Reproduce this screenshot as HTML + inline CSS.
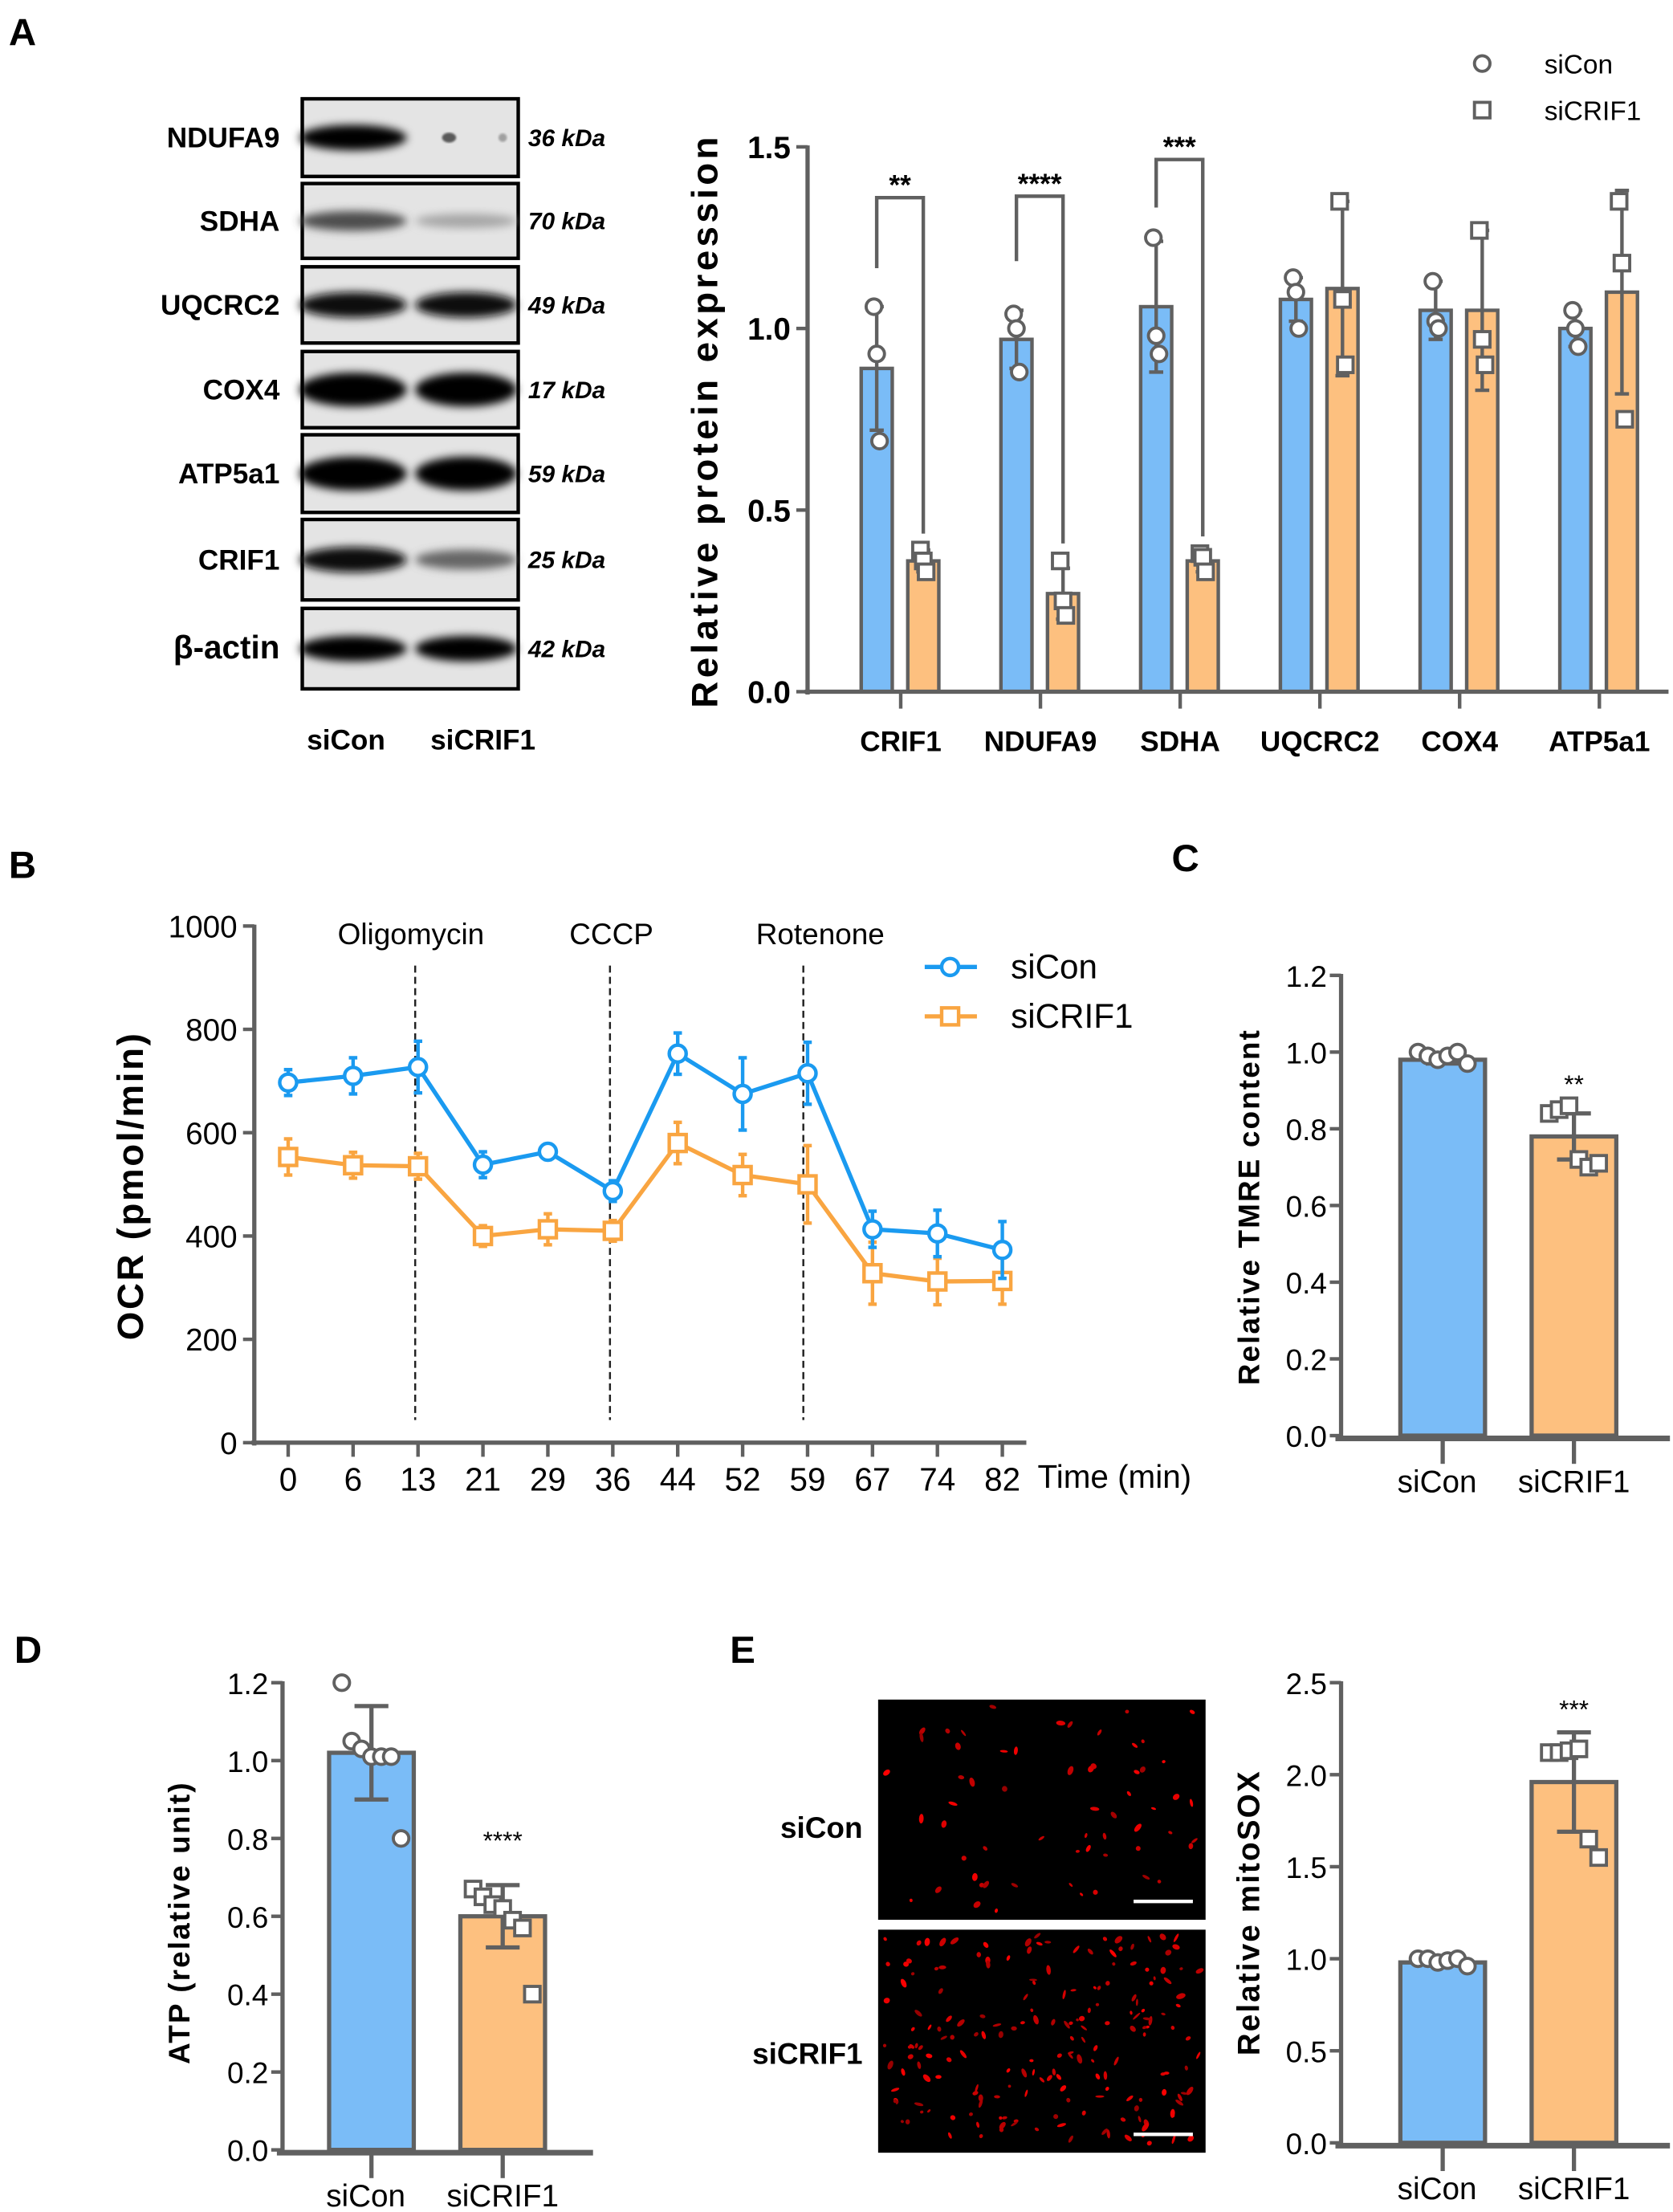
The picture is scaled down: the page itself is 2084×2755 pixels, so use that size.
<!DOCTYPE html>
<html><head><meta charset="utf-8">
<style>
html,body{margin:0;padding:0;background:#fff;}
svg{display:block;}
text{font-family:"Liberation Sans",Arial,sans-serif;}
text.n{font-family:"Liberation Sans Narrow","Liberation Sans",Arial,sans-serif;}
</style></head>
<body>
<svg id="fig" width="2084" height="2755" viewBox="0 0 1185 1567" xmlns="http://www.w3.org/2000/svg">
<defs>
<filter id="blur" x="-20%" y="-50%" width="140%" height="200%"><feGaussianBlur stdDeviation="3"/></filter>
<filter id="blur1"><feGaussianBlur stdDeviation="0.8"/></filter>
</defs>
<g id="root"></g>
</svg>
<script>
// ---------- Panel A bar chart data ----------
const aCategories = ["CRIF1","NDUFA9","SDHA","UQCRC2","COX4","ATP5a1"];
const aSiConMean = [0.89,0.97,1.06,1.08,1.05,1.00];
const aSiConSD = [0.17,0.08,0.18,0.06,0.08,0.05];
const aSiCRIF1Mean = [0.36,0.27,0.36,1.11,1.05,1.10];
const aSiCRIF1SD = [0.03,0.07,0.03,0.24,0.22,0.28];
const aSiConPts = [[1.06,0.93,0.69],[1.04,1.00,0.88],[1.25,0.98,0.93],[1.14,1.10,1.00],[1.13,1.02,1.00],[1.05,1.00,0.95]];
const aSiCRIF1Pts = [[0.39,0.36,0.33],[0.36,0.25,0.21],[0.38,0.37,0.33],[1.35,1.08,0.90],[1.27,0.97,0.90],[1.35,1.18,0.75]];
const aTicks = [0,0.5,1.0,1.5];
const aSig = ["**","****","***"];
// ---------- Panel A blots ----------
const blotLabels = ["NDUFA9","SDHA","UQCRC2","COX4","ATP5a1","CRIF1","β-actin"];
const blotKDa = ["36 kDa","70 kDa","49 kDa","17 kDa","59 kDa","25 kDa","42 kDa"];
const blotIntensity = [[1.0,0.15],[0.7,0.35],[0.95,0.95],[1.0,1.0],[1.0,1.0],[0.95,0.6],[1.0,1.0]];
// ---------- Panel B OCR ----------
const bTimes = ["0","6","13","21","29","36","44","52","59","67","74","82"];
const bSiCon = [697,710,727,538,563,487,753,675,715,413,405,373];
const bSiConErr = [25,35,50,25,15,20,40,70,60,35,45,55];
const bSiCRIF1 = [553,537,535,400,413,410,580,518,500,328,312,313];
const bSiCRIF1Err = [35,25,25,20,30,20,40,40,75,60,45,45];
const bTicks = [0,200,400,600,800,1000];
const bInjections = [{i:2,label:"Oligomycin"},{i:5,label:"CCCP"},{i:8,label:"Rotenone"}];
// ---------- Panel C TMRE ----------
const cGroups = ["siCon","siCRIF1"];
const cMean = [0.98,0.78];
const cSD = [0.01,0.06];
const cPts = [[1.0,0.99,0.98,0.99,1.0,0.97],[0.84,0.85,0.86,0.72,0.70,0.71]];
const cTicks = [0,0.2,0.4,0.6,0.8,1.0,1.2];
// ---------- Panel D ATP ----------
const dGroups = ["siCon","siCRIF1"];
const dMean = [1.02,0.60];
const dSD = [0.12,0.08];
const dPts = [[1.20,1.05,1.03,1.01,1.01,1.01,0.80],[0.67,0.65,0.63,0.62,0.59,0.57,0.40]];
const dTicks = [0,0.2,0.4,0.6,0.8,1.0,1.2];
// ---------- Panel E mitoSOX ----------
const eGroups = ["siCon","siCRIF1"];
const eMean = [0.98,1.96];
const eSD = [0.01,0.27];
const ePts = [[1.0,1.0,0.98,0.99,1.0,0.96],[2.12,2.12,2.13,2.14,1.65,1.55]];
const eTicks = [0,0.5,1.0,1.5,2.0,2.5];

const NS="http://www.w3.org/2000/svg";
const root=document.getElementById('root');
const GRAY="#606060", BLUE="#7abcf7", ORANGE="#fdc07f";
function el(tag,attrs,parent,txt){const e=document.createElementNS(NS,tag);for(const k in attrs)e.setAttribute(k,attrs[k]);if(txt!==undefined)e.textContent=txt;(parent||root).appendChild(e);return e;}

// panel letters
[["A",6,32],["B",6,622],["C",830,617],["D",10,1178],["E",517,1178]].forEach(p=>{
  const t=el('text',{x:p[1],y:p[2],'font-size':27,'font-weight':'bold'},root,p[0]);
  
  
});

// ---- blots ----
const blotTops=[70,130,189,249,308,368,431], blotH=[55,53,54,54,55,57,57];
const gB=el('g',{});


blotLabels.forEach((lab,i)=>{
  const y=blotTops[i],h=blotH[i],cy=y+h/2;
  const g=el('g',{},gB);
  
  
  el('rect',{x:214,y:y,width:153,height:h,fill:'#e4e4e4',stroke:'#000','stroke-width':2.5},g);
  const lanes=[250,330];
  blotIntensity[i].forEach((v,j)=>{
    const grey=Math.round(255*(1-v));
    const ry=v>0.9?(i===3||i===4?12:9):(v>0.5?7:5);
    const rx=v<0.2?4:(j===0?38:36);
    if(v<0.2){
      el('ellipse',{cx:lanes[j]-12,cy:cy,rx:5,ry:3.5,fill:'rgb(90,90,90)',filter:'url(#blur1)'},g);
      el('ellipse',{cx:lanes[j]+26,cy:cy,rx:3,ry:3,fill:'rgb(160,160,160)',filter:'url(#blur1)'},g);
    } else {
      el('ellipse',{cx:lanes[j],cy:cy,rx:rx,ry:ry,fill:`rgb(${grey},${grey},${grey})`,filter:'url(#blur)'},g);
    }
  });
  const t=el('text',{x:198,y:cy+7,'font-size':i===6?23:20,'font-weight':'bold','text-anchor':'end'},g,lab);
  
  
  const k=el('text',{x:374,y:cy+6,'font-size':17,'font-weight':'bold','font-style':'italic'},g,blotKDa[i]);
  
  
});
[["siCon",245],["siCRIF1",342]].forEach(p=>{
  const t=el('text',{x:p[1],y:531,'font-size':20,'font-weight':'bold','text-anchor':'middle'},gB,p[0]);
  
  
});

// generic helpers
function circ(g,x,y,r){el('circle',{cx:x,cy:y,r:r,fill:'#fff',stroke:GRAY,'stroke-width':2.2},g);}
function sq(g,x,y,r){el('rect',{x:x-r,y:y-r,width:2*r,height:2*r,fill:'#fff',stroke:GRAY,'stroke-width':2.2},g);}
function errbar(g,x,y1,y2,cap,col,w){el('line',{x1:x,x2:x,y1:y1,y2:y2,stroke:col,'stroke-width':w},g);
  el('line',{x1:x-cap,x2:x+cap,y1:y2,y2:y2,stroke:col,'stroke-width':w},g);}

// ---- Panel A chart ----
(function(){
  const g=el('g',{});
  
  
  const x0=572,y0=490,ppu=257.3;
  const Y=v=>y0-v*ppu;
  const X=i=>638+99*i;
  aCategories.forEach((c,i)=>{
    const cx=X(i);
    [[aSiConMean,aSiConSD,aSiConPts,BLUE,-17,'siCon'],[aSiCRIF1Mean,aSiCRIF1SD,aSiCRIF1Pts,ORANGE,16,'siCRIF1']].forEach(s=>{
      const bx=cx+s[4], m=s[0][i];
      const r=el('rect',{x:bx-11,y:Y(m),width:22,height:y0-Y(m),fill:s[3],stroke:GRAY,'stroke-width':2.5},g);
      
      
      errbar(g,bx,Y(m),Y(m+s[1][i]),5,GRAY,2.5);
      errbar(g,bx,Y(m),Y(m-s[1][i]),5,GRAY,2.5);
      s[2][i].forEach((p,k)=>{const dx=(k-1)*2; if(s[5]==='siCon')circ(g,bx+dx,Y(p),5.5); else sq(g,bx+dx,Y(p),5.5);});
    });
    el('line',{x1:cx,x2:cx,y1:y0,y2:y0+12,stroke:GRAY,'stroke-width':2.5},g);
    const t=el('text',{x:cx,y:532,'font-size':20,'font-weight':'bold','text-anchor':'middle'},g,c);
    
    
  });
  el('line',{x1:x0,x2:x0,y1:Y(1.5)-1,y2:y0+2,stroke:GRAY,'stroke-width':3},g);
  el('line',{x1:x0-2,x2:1182,y1:y0,y2:y0,stroke:GRAY,'stroke-width':3},g);
  aTicks.forEach(v=>{
    el('line',{x1:x0-8,x2:x0,y1:Y(v),y2:Y(v),stroke:GRAY,'stroke-width':2.5},g);
    const t=el('text',{x:x0-12,y:Y(v)+8,'font-size':22,'font-weight':'bold','text-anchor':'end'},g,v.toFixed(1));
    
    
  });
  aSig.forEach((s,i)=>{
    const bx1=X(i)-17,bx2=X(i)+16;
    const by=[140,139,113][i];
    const l1=[190,185,147][i], l2=[378,385,380][i];
    el('polyline',{points:`${bx1},${l1} ${bx1},${by} ${bx2},${by} ${bx2},${l2}`,fill:'none',stroke:GRAY,'stroke-width':2.5},g);
    const t=el('text',{x:(bx1+bx2)/2,y:by-2,'font-size':20,'font-weight':'bold','text-anchor':'middle'},g,s);
    
    
  });
  const yl=el('text',{transform:'translate(508,298) rotate(-90)','font-size':26,'font-weight':'bold','text-anchor':'middle','letter-spacing':'2.5'},g,'Relative  protein expression');
  
  
  const lg=el('g',{},g);
  
  
  circ(lg,1050,45,5.5); sq(lg,1050,78,5.5);
  el('text',{x:1094,y:52,'font-size':19},lg,'siCon');
  el('text',{x:1094,y:85,'font-size':19},lg,'siCRIF1');
})();

// ---- Panel B ----
(function(){
  const g=el('g',{});
  
  
  const x0=180,y0=1022,ppu=0.366;
  const Y=v=>y0-v*ppu, X=i=>204+46*i;
  el('line',{x1:x0,x2:x0,y1:Y(1000)-1,y2:y0+2,stroke:GRAY,'stroke-width':3},g);
  el('line',{x1:x0-2,x2:727,y1:y0,y2:y0,stroke:GRAY,'stroke-width':3},g);
  bTicks.forEach(v=>{
    el('line',{x1:x0-8,x2:x0,y1:Y(v),y2:Y(v),stroke:GRAY,'stroke-width':2.5},g);
    const t=el('text',{x:x0-12,y:Y(v)+8,'font-size':22,'text-anchor':'end','class':'n'},g,String(v));
    
    
  });
  bTimes.forEach((s,i)=>{
    el('line',{x1:X(i),x2:X(i),y1:y0,y2:y0+10,stroke:GRAY,'stroke-width':2.5},g);
    const t=el('text',{x:X(i),y:1056,'font-size':23,'text-anchor':'middle','class':'n'},g,s);
    
    
  });
  const tt=el('text',{x:735,y:1054,'font-size':23,'class':'n'},g,'Time (min)');
  
  
  bInjections.forEach((inj,j)=>{
    const lx=X(inj.i)+(inj.i===8?-3:(inj.i===2?-2:-2));
    el('line',{x1:lx,x2:lx,y1:684,y2:1006,stroke:'#222','stroke-width':1.4,'stroke-dasharray':'5,3'},g);
    const t=el('text',{x:[291,433,581][j],y:669,'font-size':21,'text-anchor':'middle','class':'n'},g,inj.label);
    
    
  });
  [[bSiCRIF1,bSiCRIF1Err,'#f9a541','sq','series-sicrif1'],[bSiCon,bSiConErr,'#1a9af0','c','series-sicon']].forEach(s=>{
    const sg=el('g',{},g);
    
    
    el('polyline',{points:s[0].map((v,i)=>X(i)+','+Y(v)).join(' '),fill:'none',stroke:s[2],'stroke-width':3},sg);
    s[0].forEach((v,i)=>{
      errbar(sg,X(i),Y(v),Y(v+s[1][i]),3,s[2],2.5);
      errbar(sg,X(i),Y(v),Y(v-s[1][i]),3,s[2],2.5);
      if(s[3]==='c') el('circle',{cx:X(i),cy:Y(v),r:6,fill:'#fff',stroke:s[2],'stroke-width':2.5},sg);
      else el('rect',{x:X(i)-6,y:Y(v)-6,width:12,height:12,fill:'#fff',stroke:s[2],'stroke-width':2.5},sg);
    });
  });
  const lg=el('g',{},g);
  
  
  el('line',{x1:655,x2:692,y1:685,y2:685,stroke:'#1a9af0','stroke-width':3},lg);
  el('circle',{cx:673,cy:685,r:6,fill:'#fff',stroke:'#1a9af0','stroke-width':2.5},lg);
  el('text',{x:716,y:693,'font-size':24,'class':'n'},lg,'siCon');
  el('line',{x1:655,x2:692,y1:720,y2:720,stroke:'#f9a541','stroke-width':3},lg);
  el('rect',{x:667,y:714,width:12,height:12,fill:'#fff',stroke:'#f9a541','stroke-width':2.5},lg);
  el('text',{x:716,y:728,'font-size':24,'class':'n'},lg,'siCRIF1');
  const yl=el('text',{transform:'translate(101,840) rotate(-90)','font-size':26,'font-weight':'bold','text-anchor':'middle','letter-spacing':'1.5'},g,'OCR (pmol/min)');
  
  
})();

// ---- two-bar charts ----
function twoBar(name,cfg){
  const g=el('g',{});
  
  
  const {x0,y0,ppu,ticks,means,sds,pts,groups,stars,starY,title,titleX,xEnd,centers,decimals,fs}=cfg;
  const Y=v=>y0-v*ppu;
  means.forEach((m,i)=>{
    const cx=centers[i];
    const r=el('rect',{x:cx-30,y:Y(m),width:60,height:y0-Y(m),fill:i?ORANGE:BLUE,stroke:GRAY,'stroke-width':3},g);
    
    
    errbar(g,cx,Y(m),Y(m+sds[i]),12,GRAY,3);
    errbar(g,cx,Y(m),Y(m-sds[i]),12,GRAY,3);
    const n=pts[i].length;
    pts[i].forEach((p,k)=>{const dx=(k-(n-1)/2)*7; if(i===0)circ(g,cx+dx,Y(p),5.5); else sq(g,cx+dx,Y(p),5.5);});
    el('line',{x1:cx,x2:cx,y1:y0,y2:y0+20,stroke:GRAY,'stroke-width':3},g);
    const t=el('text',{x:cx-(i?0:4),y:y0+40,'font-size':22,'text-anchor':'middle','class':'n'},g,groups[i]);
    
    
  });
  el('line',{x1:x0,x2:x0,y1:Y(ticks[ticks.length-1])-1,y2:y0+2,stroke:GRAY,'stroke-width':3},g);
  el('line',{x1:x0-4,x2:xEnd,y1:y0+2,y2:y0+2,stroke:GRAY,'stroke-width':4},g);
  ticks.forEach(v=>{
    el('line',{x1:x0-8,x2:x0,y1:Y(v),y2:Y(v),stroke:GRAY,'stroke-width':2.5},g);
    const t=el('text',{x:x0-10,y:Y(v)+8,'font-size':21,'text-anchor':'end','class':'n'},g,v.toFixed(decimals));
    
    
  });
  const s=el('text',{x:centers[1],y:starY,'font-size':18,'text-anchor':'middle'},g,stars);
  
  
  const yl=el('text',{transform:`translate(${titleX},${cfg.titleY}) rotate(-90)`,'font-size':fs,'font-weight':'bold','text-anchor':'middle','letter-spacing':'1.2'},g,title);
  
  
}
twoBar('tmre-chart',{x0:950,y0:1017,ppu:271.7,ticks:cTicks,means:cMean,sds:cSD,pts:cPts,groups:cGroups,stars:'**',starY:774,title:'Relative TMRE content',titleX:892,titleY:855,xEnd:1183,centers:[1022,1115],decimals:1,fs:21});
twoBar('atp-chart',{x0:200,y0:1523,ppu:275.8,ticks:dTicks,means:dMean,sds:dSD,pts:dPts,groups:dGroups,stars:'****',starY:1310,title:'ATP (relative unit)',titleX:134,titleY:1362,xEnd:420,centers:[263,356],decimals:1,fs:21});
twoBar('mitosox-chart',{x0:950,y0:1518,ppu:130.4,ticks:eTicks,means:eMean,sds:eSD,pts:ePts,groups:eGroups,stars:'***',starY:1217,title:'Relative mitoSOX',titleX:892,titleY:1355,xEnd:1183,centers:[1022,1115],decimals:1,fs:22});

// ---- Panel E images ----
(function(){
  const g=el('g',{});
  
  
  let seed=12345;const rnd=()=>{seed=(seed*1103515245+12345)%2147483648;return seed/2147483648;};
  [[1204,156,'siCon',60,1302],[1367,158,'siCRIF1',190,1462]].forEach(p=>{
    const ig=el('g',{},g);
    
    
    el('rect',{x:622,y:p[0],width:232,height:p[1],fill:'#000'},ig);
    for(let k=0;k<p[3];k++){
      const cx=626+rnd()*224, cy=p[0]+4+rnd()*(p[1]-8), rx=1+rnd()*2.5, ry=0.8+rnd()*1.2, a=Math.round(rnd()*180);
      el('ellipse',{cx:cx,cy:cy,rx:rx,ry:ry,fill:`rgb(${150+Math.round(rnd()*105)},0,0)`,transform:`rotate(${a} ${cx} ${cy})`},ig);
    }
    el('line',{x1:803,x2:845,y1:p[0]+p[1]-13,y2:p[0]+p[1]-13,stroke:'#fff','stroke-width':2.5},ig);
    const t=el('text',{x:611,y:p[4],'font-size':21,'font-weight':'bold','text-anchor':'end'},g,p[2]);
    
    
  });
})();
</script>
</body></html>
